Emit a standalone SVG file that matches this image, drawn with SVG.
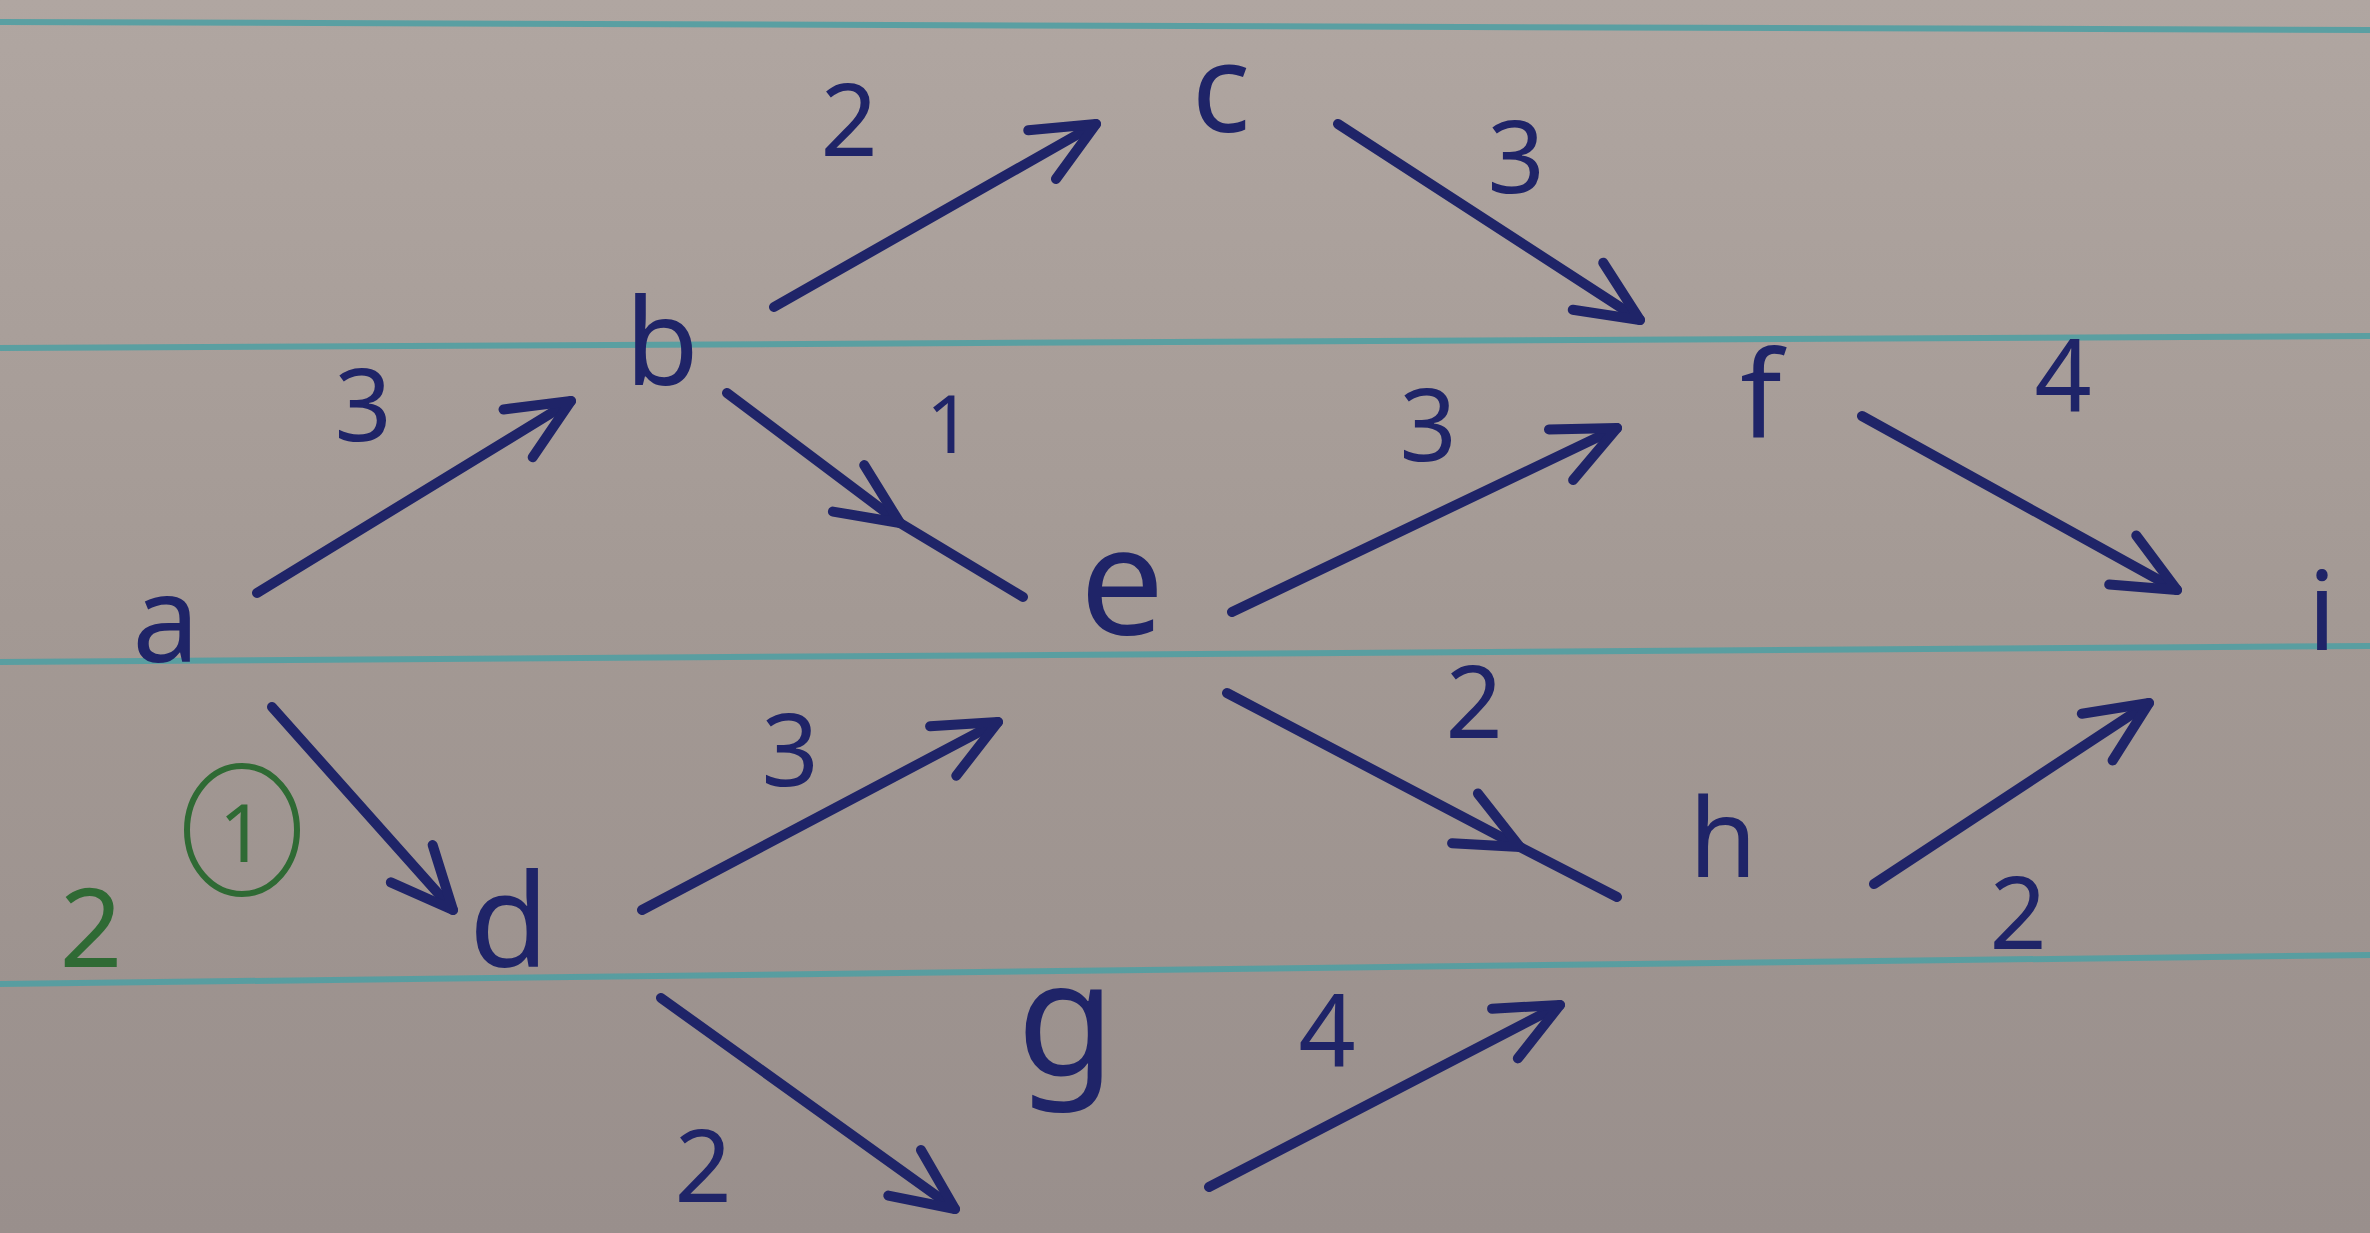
<svg xmlns="http://www.w3.org/2000/svg" width="2370" height="1233" viewBox="0 0 2370 1233">
<defs>
<linearGradient id="paper" x1="0" y1="0" x2="0" y2="1">
<stop offset="0" stop-color="#b0a6a1"/>
<stop offset="0.5" stop-color="#a39994"/>
<stop offset="1" stop-color="#998f8c"/>
</linearGradient>
<marker id="head" markerUnits="userSpaceOnUse" viewBox="-80 -40 90 80" refX="0" refY="0" markerWidth="90" markerHeight="80" orient="auto">
<path d="M -62,-28 L 0,0 L -62,28" fill="none" stroke="#1f2468" stroke-width="10" stroke-linecap="round" stroke-linejoin="round"/>
</marker>
</defs>
<style>
.rule{stroke:#519fa2;stroke-width:6;fill:none;opacity:0.9}
.edge{stroke:#1f2468;stroke-width:10;fill:none;stroke-linecap:round;stroke-linejoin:round}
.end{marker-end:url(#head)}
.mid{marker-mid:url(#head)}
.node{fill:#1f2468;font-family:"Noto Sans","DejaVu Sans",sans-serif;text-anchor:middle}
.w{fill:#1f2468;font-family:"Noto Sans","DejaVu Sans",sans-serif;text-anchor:middle;font-size:100px}
.green{fill:#2f6a34;font-family:"Noto Sans","DejaVu Sans",sans-serif;text-anchor:middle}
</style>
<rect x="0" y="0" width="2370" height="1233" fill="url(#paper)"/>
<g id="rules">
<line class="rule" x1="0" y1="22" x2="2370" y2="30"/>
<line class="rule" x1="0" y1="348" x2="2370" y2="336"/>
<line class="rule" x1="0" y1="662" x2="2370" y2="646"/>
<line class="rule" x1="0" y1="984" x2="2370" y2="955"/>
</g>
<g id="connectors">
<path id="e-a-b" class="edge end" d="M257,593 L571,401"/>
<path id="e-a-d" class="edge end" d="M272,707 L453,910"/>
<path id="e-b-c" class="edge end" d="M774,307 L1096,124"/>
<path id="e-b-e" class="edge mid" d="M727,393 L900,523 L1023,597"/>
<path id="e-c-f" class="edge end" d="M1338,124 L1640,320"/>
<path id="e-e-f" class="edge end" d="M1232,612 L1617,428"/>
<path id="e-e-h" class="edge mid" d="M1227,693 L1520,847 L1617,897"/>
<path id="e-d-e" class="edge end" d="M642,910 L998,722"/>
<path id="e-d-g" class="edge end" d="M661,998 L955,1209"/>
<path id="e-g-h" class="edge end" d="M1209,1187 L1560,1005"/>
<path id="e-f-i" class="edge end" d="M1862,416 L2177,590"/>
<path id="e-h-i" class="edge end" d="M1874,884 L2149,703"/>
</g>
<g id="weights">
<text class="w" x="849" y="156">2</text>
<text class="w" x="1516" y="193">3</text>
<text class="w" x="363" y="441">3</text>
<text class="w" x="949" y="453" style="font-size:80px">1</text>
<text class="w" x="1428" y="461">3</text>
<text class="w" x="2063" y="411">4</text>
<text class="w" x="1474" y="738">2</text>
<text class="w" x="790" y="786">3</text>
<text class="w" x="2018" y="949">2</text>
<text class="w" x="1327" y="1066">4</text>
<text class="w" x="703" y="1202">2</text>
</g>
<g id="node-a"><text class="node" x="166" y="662" font-size="120">a</text></g>
<g id="node-b"><text class="node" x="662" y="385" font-size="120">b</text></g>
<g id="node-c"><text class="node" x="1221" y="132" font-size="122">c</text></g>
<g id="node-d"><text class="node" x="509" y="967" font-size="130">d</text></g>
<g id="node-e"><text class="node" x="1122" y="635" font-size="150">e</text></g>
<g id="node-f"><text class="node" x="1761" y="438" font-size="120">f</text></g>
<g id="node-g"><text class="node" x="1066" y="1075" font-size="160">g</text></g>
<g id="node-h"><text class="node" x="1723" y="877" font-size="110">h</text></g>
<g id="node-i"><text class="node" x="2322" y="650" font-size="110">i</text></g>
<g id="note">
<text class="green" x="91" y="967" font-size="110">2</text>
<ellipse cx="242" cy="830" rx="55" ry="64" fill="none" stroke="#2f6a34" stroke-width="6"/>
<text class="green" x="242" y="862" font-size="80">1</text>
</g>
</svg>
